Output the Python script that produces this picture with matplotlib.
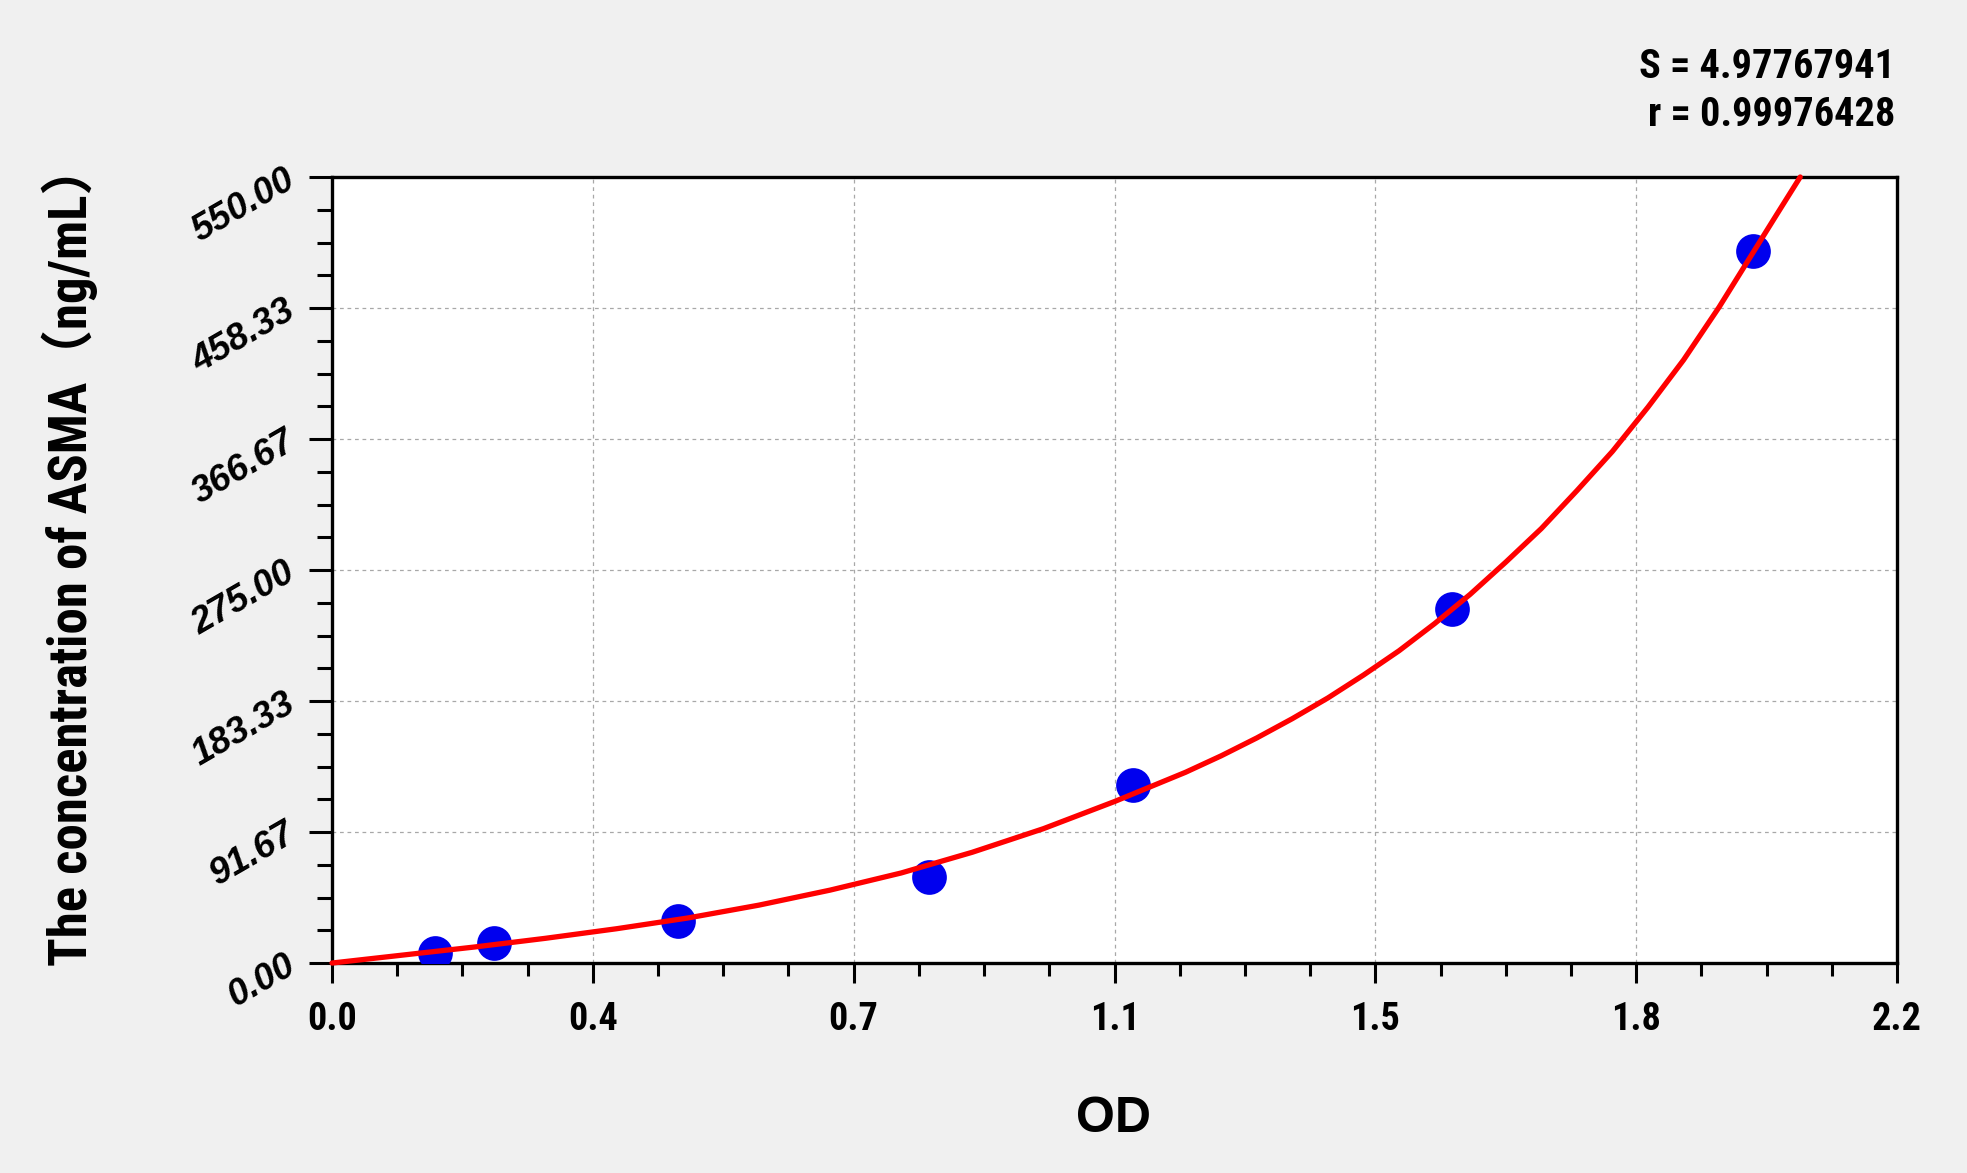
import matplotlib
matplotlib.use("Agg")
import matplotlib.pyplot as plt
from matplotlib import font_manager
from matplotlib.ticker import FixedLocator, AutoMinorLocator
import numpy as np

# ---- data ----
od_points = [0.145, 0.228, 0.486, 0.839, 1.126, 1.574, 1.997]
conc_points = [6.8, 13.8, 29.6, 60.4, 124.3, 247.7, 498.2]

curve_od = [0.0, 0.1, 0.2, 0.3, 0.4, 0.5, 0.6, 0.7, 0.8, 0.9, 1.0,
            1.1, 1.2, 1.25, 1.3, 1.35, 1.4, 1.45, 1.5, 1.55, 1.6, 1.65, 1.7,
            1.75, 1.8, 1.85, 1.9, 1.95, 2.0, 2.03, 2.064]
curve_conc = [0.0, 5.6, 11.2, 17.3, 24.0, 31.5, 40.5, 51.0, 63.0, 77.5, 94.0,
              113.0, 133.5, 145.0, 157.5, 171.0, 185.5, 201.5, 218.5, 237.5, 258.0, 280.5, 304.0,
              330.5, 358.0, 389.0, 422.0, 459.0, 499.0, 523.0, 550.0]

x_tick_labels = ["0.0", "0.4", "0.7", "1.1", "1.5", "1.8", "2.2"]
y_tick_labels = ["0.00", "91.67", "183.33", "275.00", "366.67", "458.33", "550.00"]
x_max = 2.2
y_max = 550.0

stat_s = "S = 4.97767941"
stat_r = "r = 0.99976428"
x_label = "OD"
y_label = "The concentration of ASMA\uff08ng/mL\uff09"

# ---- fonts ----
avail = {f.name for f in font_manager.fontManager.ttflist}
narrow = next((n for n in ["Roboto Condensed", "PT Sans Narrow", "Liberation Sans"] if n in avail),
              "DejaVu Sans")
sans = "Liberation Sans" if "Liberation Sans" in avail else "DejaVu Sans"

fig = plt.figure(figsize=(19.67, 11.73), dpi=100, facecolor="#f0f0f0")
ax = fig.add_axes([0.1688, 0.1790, 0.7956, 0.6701])
ax.set_facecolor("white")

ax.set_xlim(0, x_max)
ax.set_ylim(0, y_max)

xt = np.linspace(0, x_max, len(x_tick_labels))
yt = np.linspace(0, y_max, len(y_tick_labels))
ax.xaxis.set_major_locator(FixedLocator(xt))
ax.yaxis.set_major_locator(FixedLocator(yt))
ax.xaxis.set_minor_locator(AutoMinorLocator(4))
ax.yaxis.set_minor_locator(AutoMinorLocator(4))

ax.grid(True, which="major", color="#a8a8a8", linestyle=(0, (3, 3)), linewidth=0.9)
ax.set_axisbelow(True)

for s in ax.spines.values():
    s.set_linewidth(2.4)
    s.set_color("black")

ax.tick_params(axis="x", which="major", length=14.5, width=2.2, direction="out", pad=13)
ax.tick_params(axis="x", which="minor", length=9.5, width=2.2, direction="out")
ax.tick_params(axis="y", which="major", length=16.5, width=2.2, direction="out", pad=12)
ax.tick_params(axis="y", which="minor", length=10.8, width=2.2, direction="out")
ax.tick_params(top=False, right=False, which="both")

ax.set_xticklabels(x_tick_labels, fontfamily=narrow, fontweight="bold", fontsize=27.5)
ax.set_yticklabels(y_tick_labels, fontfamily=sans, fontweight="bold", fontstyle="italic",
                   fontsize=26.5, rotation=30, rotation_mode="anchor", ha="right", va="center")

ax.plot(od_points, conc_points, linestyle="none", marker="o", markersize=25,
        color="#0000ee", markeredgewidth=0, zorder=3)
ax.plot(curve_od, curve_conc, color="#ff0000", linewidth=3.8, zorder=4,
        solid_capstyle="round", solid_joinstyle="round", clip_on=False)

fig.text(0.9634, 0.9335, stat_s, ha="right", va="baseline", fontfamily=narrow,
         fontweight="bold", fontsize=29)
fig.text(0.9634, 0.8926, stat_r, ha="right", va="baseline", fontfamily=narrow,
         fontweight="bold", fontsize=29)

fig.text(0.5663, 0.035, x_label, ha="center", va="baseline", fontfamily=sans,
         fontweight="bold", fontsize=36)
fig.text(0.0356, 0.528, y_label, ha="center", va="center", rotation=90,
         family=[narrow, "Noto Sans CJK SC", "DejaVu Sans"], fontweight="bold", fontsize=38)

fig.savefig("out.png", dpi=100, facecolor=fig.get_facecolor())
